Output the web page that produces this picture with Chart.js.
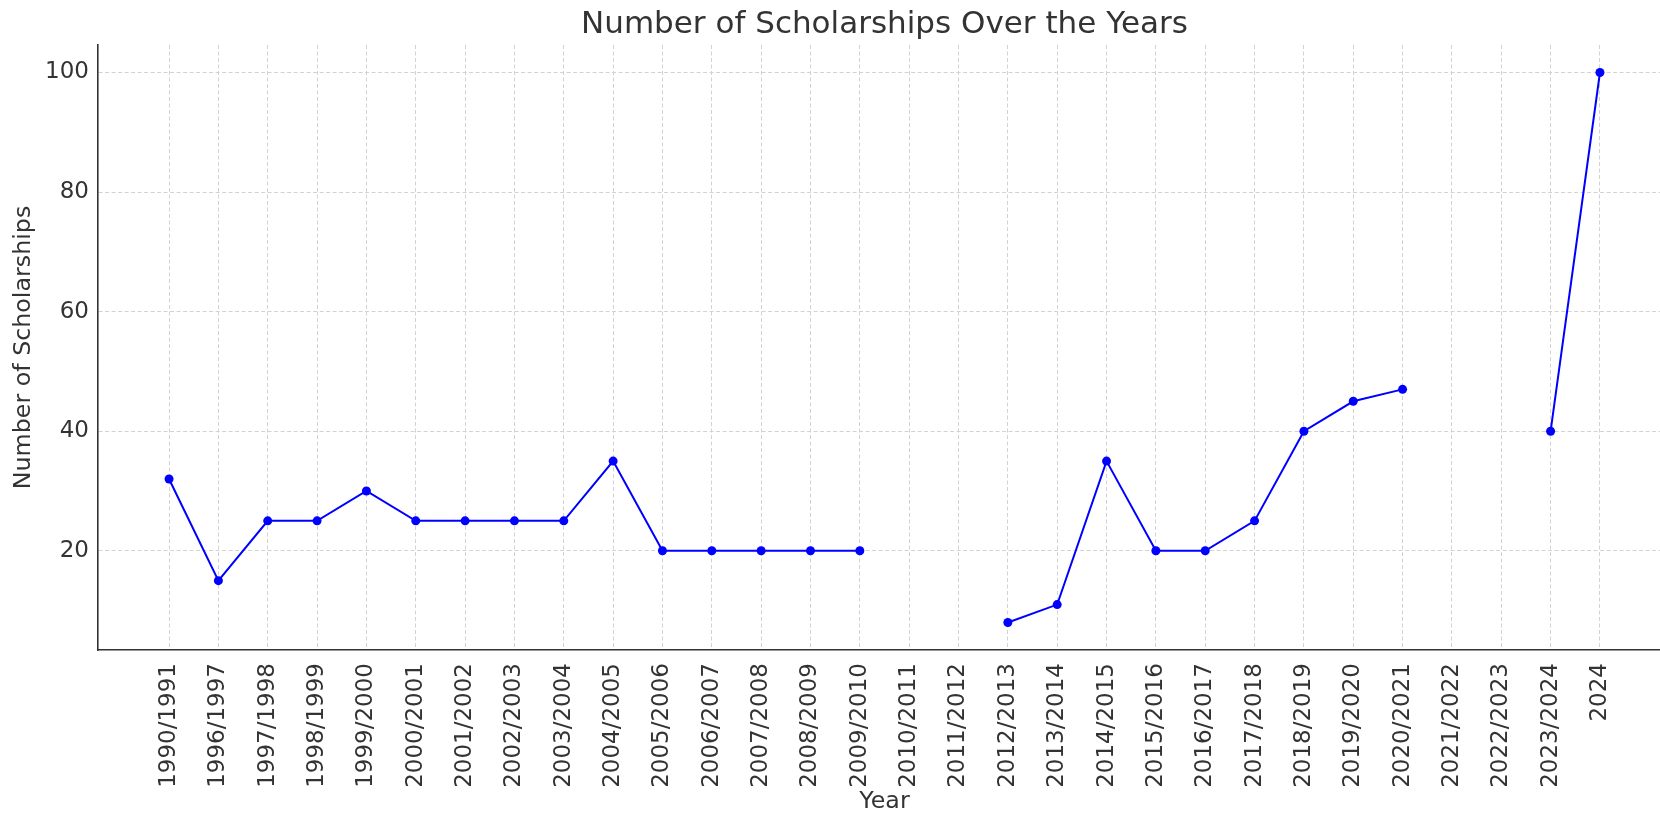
<!DOCTYPE html>
<html>
<head>
<meta charset="utf-8">
<script src="https://cdn.jsdelivr.net/npm/chart.js@4"></script>
<style>
  html, body { margin: 0; padding: 0; background: #fff; overflow: hidden; }
  #wrap { width: 1700px; height: 819px; }
</style>
</head>
<body>
<div id="wrap"><canvas id="scholarchart" width="1700" height="819"></canvas></div>
<script>
const years = [
  "1990/1991", "1996/1997", "1997/1998", "1998/1999", "1999/2000",
  "2000/2001", "2001/2002", "2002/2003", "2003/2004", "2004/2005",
  "2005/2006", "2006/2007", "2007/2008", "2008/2009", "2009/2010",
  "2010/2011", "2011/2012", "2012/2013", "2013/2014", "2014/2015",
  "2015/2016", "2016/2017", "2017/2018", "2018/2019", "2019/2020",
  "2020/2021", "2021/2022", "2022/2023", "2023/2024", "2024"
];
const scholarships = [
  32, 15, 25, 25, 30,
  25, 25, 25, 25, 35,
  20, 20, 20, 20, 20,
  null, null, 8, 11, 35,
  20, 20, 25, 40, 45,
  47, null, null, 40, 100
];
const yTicks = [20, 40, 60, 80, 100];

const font = "'DejaVu Sans', sans-serif";
const textColor = "#333333";
const gridColor = "#d2d2d2";

const points = years.map((_, i) => ({ x: i, y: scholarships[i] }));

new Chart(document.getElementById("scholarchart"), {
  type: "line",
  data: {
    datasets: [
      {
        label: "Number of Scholarships",
        data: points,
        borderColor: "#0000ff",
        backgroundColor: "#0000ff",
        borderWidth: 2,
        pointRadius: 4.5,
        pointBorderWidth: 0,
        pointBackgroundColor: "#0000ff",
        tension: 0,
        spanGaps: false,
      },
    ],
  },
  options: {
    responsive: false,
    animation: false,
    layout: { padding: { left: 0, right: 28.5, top: 0, bottom: 0 } },
    plugins: {
      legend: { display: false },
      tooltip: { enabled: false },
      title: {
        display: true,
        text: "Number of Scholarships Over the Years",
        fullSize: false,
        color: textColor,
        font: { family: font, size: 31, weight: "normal", lineHeight: 1 },
        padding: { top: 9.5, bottom: 4.5 },
      },
    },
    scales: {
      x: {
        type: "linear",
        min: -1.45,
        max: 30.45,
        afterBuildTicks: (scale) => {
          scale.ticks = years.map((_, i) => ({ value: i }));
        },
        afterFit: (scale) => {
          scale.height = 169;
        },
        ticks: {
          autoSkip: false,
          minRotation: 90,
          maxRotation: 90,
          padding: 13,
          color: textColor,
          font: { family: font, size: 23 },
          callback: (value) => years[value],
        },
        grid: {
          color: gridColor,
          lineWidth: 1,
          drawTicks: false,
        },
        border: { display: true, color: "#333333", width: 1.6, dash: [4, 2.5] },
        title: {
          display: true,
          text: "Year",
          color: textColor,
          font: { family: font, size: 23.75, lineHeight: 1.2 },
          padding: { top: 0, bottom: 2.75 },
        },
      },
      y: {
        type: "linear",
        min: 3.4,
        max: 104.6,
        afterBuildTicks: (scale) => {
          scale.ticks = yTicks.map((v) => ({ value: v }));
        },
        afterFit: (scale) => {
          scale.width = 97.5;
        },
        ticks: {
          padding: 8.5,
          color: textColor,
          font: { family: font, size: 23 },
        },
        grid: {
          color: gridColor,
          lineWidth: 1,
          drawTicks: false,
        },
        border: { display: true, color: "#333333", width: 1.6, dash: [4, 2.5] },
        title: {
          display: true,
          text: "Number of Scholarships",
          color: textColor,
          font: { family: font, size: 23.75, lineHeight: 1.2 },
          padding: { top: 10, bottom: 0 },
        },
      },
    },
  },
});
</script>
</body>
</html>
